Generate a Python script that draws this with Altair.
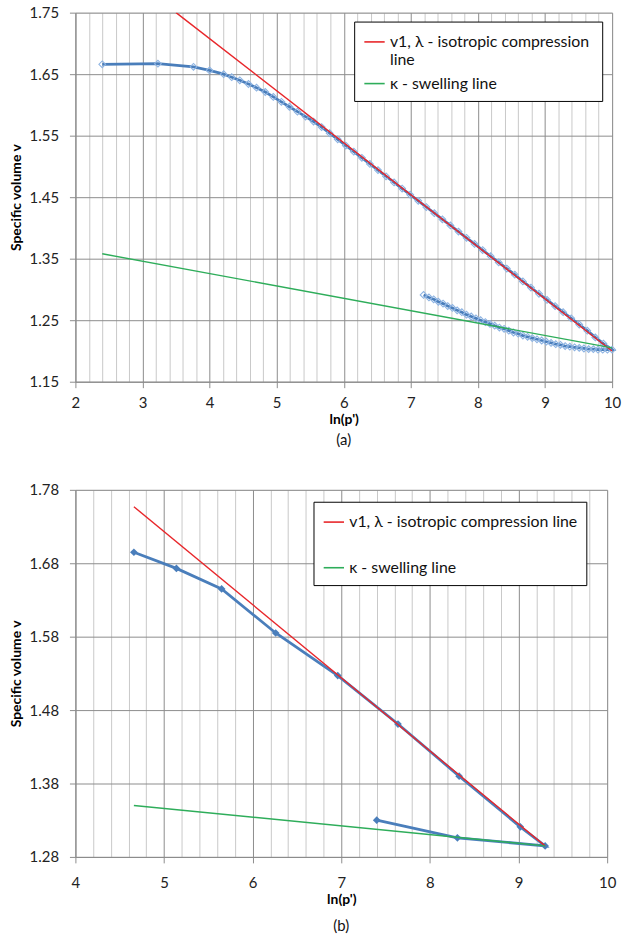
import altair as alt
import pandas as pd

FONT = "Lato"
BLUE = "#4A7EBB"
RED = "#E8262A"
GREEN = "#2EAD5A"
MAJOR = "#8C8C8C"
MINOR = "#C8C8C8"

# ---------------- panel (a) ----------------
a_load_lnp = [2.40, 3.23, 3.76, 4.00, 4.21, 4.33, 4.45, 4.58, 4.70, 4.83, 4.95, 5.07,
              5.19, 5.31, 5.43, 5.55, 5.67, 5.79, 5.91, 6.03, 6.15, 6.27, 6.39, 6.51,
              6.63, 6.75, 6.87, 6.99, 7.11, 7.23, 7.35, 7.47, 7.59, 7.71, 7.83, 7.95,
              8.07, 8.19, 8.31, 8.43, 8.55, 8.67, 8.79, 8.91, 9.03, 9.15, 9.27, 9.39,
              9.51, 9.63, 9.75, 9.87, 10.00]
a_load_v = [1.666, 1.667, 1.662, 1.656, 1.650, 1.645, 1.640, 1.634, 1.628, 1.621, 1.613, 1.605,
            1.597, 1.589, 1.581, 1.573, 1.564, 1.554, 1.544, 1.534, 1.524, 1.514, 1.504, 1.494,
            1.484, 1.474, 1.464, 1.454, 1.444, 1.434, 1.424, 1.414, 1.404, 1.394, 1.384, 1.374,
            1.364, 1.354, 1.344, 1.334, 1.324, 1.313, 1.303, 1.293, 1.283, 1.273, 1.263, 1.253,
            1.243, 1.233, 1.222, 1.212, 1.202]
a_unload_lnp = [9.93, 9.86, 9.79, 9.72, 9.65, 9.58, 9.51, 9.44, 9.37, 9.30, 9.23, 9.16,
                9.09, 9.02, 8.95, 8.88, 8.81, 8.74, 8.67, 8.60, 8.53, 8.46, 8.39, 8.32,
                8.25, 8.18, 8.11, 8.04, 7.97, 7.90, 7.83, 7.76, 7.69, 7.62, 7.55, 7.48,
                7.41, 7.34, 7.27, 7.19]
a_unload_v = [1.202, 1.202, 1.202, 1.203, 1.203, 1.204, 1.205, 1.206, 1.207, 1.208, 1.210, 1.211,
              1.213, 1.215, 1.217, 1.219, 1.221, 1.223, 1.225, 1.228, 1.230, 1.233, 1.236, 1.238,
              1.241, 1.244, 1.247, 1.250, 1.253, 1.256, 1.259, 1.263, 1.266, 1.270, 1.273, 1.277,
              1.280, 1.284, 1.287, 1.291]
a_icl_lnp = [3.5, 10.0]
a_icl_v = [1.750, 1.200]
a_swell_lnp = [2.4, 10.0]
a_swell_v = [1.358, 1.205]
a_names = ["v1, λ  - isotropic compression line", "κ  - swelling line"]
a_yticks = [1.15, 1.25, 1.35, 1.45, 1.55, 1.65, 1.75]

# ---------------- panel (b) ----------------
b_lnp = [4.66, 5.14, 5.65, 6.26, 6.96, 7.64, 8.33, 9.02, 9.30, 8.31, 7.40]
b_v = [1.695, 1.673, 1.645, 1.585, 1.527, 1.461, 1.390, 1.321, 1.295, 1.306, 1.330]
b_icl_lnp = [4.66, 9.30]
b_icl_v = [1.757, 1.295]
b_swell_lnp = [4.66, 9.30]
b_swell_v = [1.350, 1.295]
b_names = ["v1, λ - isotropic compression line", "κ - swelling line"]
b_yticks = [1.28, 1.38, 1.48, 1.58, 1.68, 1.78]


def panel(path_lnp, path_v, icl, swell, names, xdom, ydom, yticks, w, h,
          caption, caption_offset, legend_xy, legend_rowpad, legend_pad,
          wrap, filled, label_pad):
    n = len(path_lnp)
    df = pd.DataFrame({
        "lnp": list(path_lnp) + icl[0] + swell[0],
        "v": list(path_v) + icl[1] + swell[1],
        "kind": ["path"] * n + [names[0]] * len(icl[0]) + [names[1]] * len(swell[0]),
        "order": list(range(n)) + list(range(len(icl[0]))) + list(range(len(swell[0]))),
    })

    is_major = "abs(datum.value - round(datum.value)) < 0.001"
    steps = int(round((xdom[1] - xdom[0]) / 0.2))
    xvals = [round(xdom[0] + 0.2 * i, 1) for i in range(steps + 1)]

    x = alt.X("lnp:Q", scale=alt.Scale(domain=xdom, nice=False, zero=False),
              axis=alt.Axis(title="ln(p')", values=xvals,
                            labelExpr=f"{is_major} ? format(datum.value, 'd') : ''",
                            labelOverlap=False, labelFlush=False,
                            gridColor={"condition": {"test": is_major, "value": MAJOR}, "value": MINOR},
                            tickOpacity={"condition": {"test": is_major, "value": 1}, "value": 0},
                            tickColor=MAJOR, tickSize=6, domainColor=MAJOR,
                            labelPadding=label_pad, titlePadding=2,
                            labelFont=FONT, labelFontSize=15, labelColor="#222",
                            titleFont=FONT, titleFontSize=14, titleFontWeight="bold",
                            titleColor="#000"))
    y = alt.Y("v:Q", scale=alt.Scale(domain=ydom, nice=False, zero=False),
              axis=alt.Axis(title="Specific volume v", values=yticks, format=".2f",
                            labelOverlap=False,
                            gridColor=MAJOR, tickColor=MAJOR, tickSize=6, domainColor=MAJOR,
                            labelPadding=11, titlePadding=6,
                            labelFont=FONT, labelFontSize=15, labelColor="#222",
                            titleFont=FONT, titleFontSize=14, titleFontWeight="bold",
                            titleColor="#000"))

    base = alt.Chart(df).encode(x=x, y=y)
    on_path = "datum.kind == 'path'"

    curve = base.transform_filter(on_path).mark_line(
        color=BLUE, strokeWidth=2.8).encode(order="order:Q")
    if filled:
        pts = base.transform_filter(on_path).mark_point(
            shape="diamond", filled=True, color=BLUE, size=60, opacity=1)
    else:
        pts = base.transform_filter(on_path).mark_point(
            shape="diamond", filled=False, stroke="#8DB3E2", strokeWidth=1.1, size=46, opacity=1)

    label_expr = "datum.label"
    if wrap:
        label_expr = (f"datum.label == '{names[0]}' ? "
                      f"['{names[0][:-5]}', 'line'] : datum.label")

    ref = base.transform_filter("datum.kind != 'path'").mark_line(
        strokeWidth=1.4, clip=True).encode(
        order="order:Q",
        color=alt.Color("kind:N",
                        scale=alt.Scale(domain=names, range=[RED, GREEN]),
                        legend=alt.Legend(title=None, orient="none",
                                          legendX=legend_xy[0], legendY=legend_xy[1],
                                          symbolType="stroke", symbolSize=420,
                                          symbolStrokeWidth=1.6,
                                          labelFont=FONT, labelFontSize=16,
                                          labelColor="#111", labelLimit=500,
                                          labelExpr=label_expr,
                                          rowPadding=legend_rowpad,
                                          strokeColor="#000", fillColor="#fff",
                                          padding=legend_pad, cornerRadius=0)),
    )

    return alt.layer(curve, pts, ref).properties(
        width=w, height=h,
        title=alt.TitleParams(caption, orient="bottom", anchor="middle", font=FONT,
                              fontSize=15, fontWeight="normal", color="#111",
                              offset=caption_offset),
    )


top = panel(a_load_lnp + a_unload_lnp, a_load_v + a_unload_v,
            (a_icl_lnp, a_icl_v), (a_swell_lnp, a_swell_v), a_names,
            [2, 10], [1.15, 1.75], a_yticks, 541, 372, "(a)", 7,
            (281, 9), 4, 9, True, False, 8)
bottom = panel(b_lnp, b_v,
               (b_icl_lnp, b_icl_v), (b_swell_lnp, b_swell_v), b_names,
               [4, 10], [1.28, 1.78], b_yticks, 536, 370, "(b)", 13,
               (240, 12), 26, 9, False, True, 13)

chart = alt.vconcat(top, bottom, spacing=33).resolve_scale(
    x="independent", y="independent", color="independent"
).resolve_legend(color="independent").properties(
    padding={"left": 8, "top": 1, "right": 5, "bottom": 2}
).configure_view(stroke=None).configure(background="#ffffff")

chart.save("out.html", embed_options={"renderer": "svg", "actions": False})
